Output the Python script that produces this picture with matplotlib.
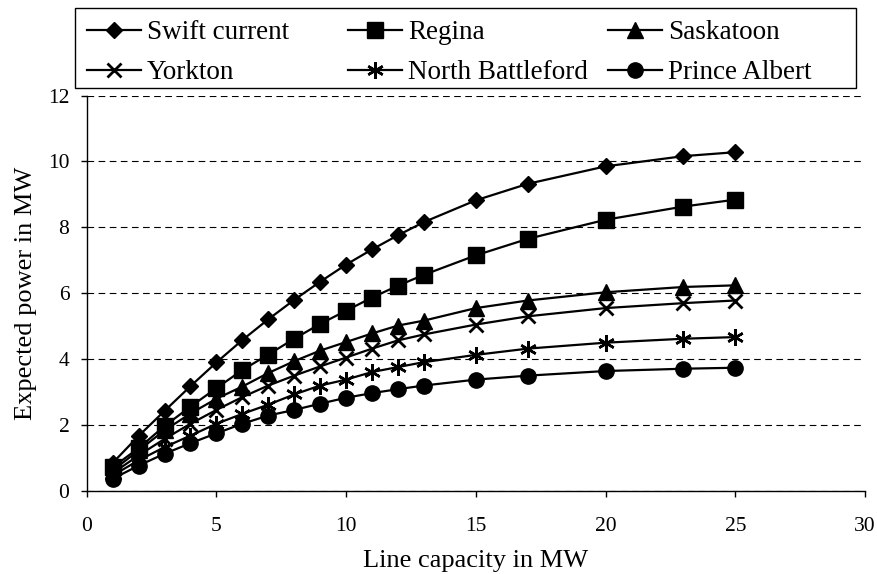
import matplotlib
matplotlib.use("Agg")
import matplotlib.pyplot as plt
from matplotlib.patches import Rectangle

capacity = [1, 2, 3, 4, 5, 6, 7, 8, 9, 10, 11, 12, 13, 15, 17, 20, 23, 25]

swift_current = [0.85, 1.67, 2.43, 3.18, 3.9, 4.58, 5.21, 5.8, 6.35, 6.87, 7.33, 7.76, 8.16, 8.82, 9.32, 9.85, 10.16, 10.28]
regina = [0.72, 1.3, 1.97, 2.56, 3.12, 3.67, 4.14, 4.62, 5.07, 5.47, 5.87, 6.23, 6.56, 7.15, 7.65, 8.23, 8.63, 8.84]
saskatoon = [0.62, 1.23, 1.84, 2.35, 2.8, 3.17, 3.58, 3.94, 4.26, 4.52, 4.78, 5.02, 5.17, 5.55, 5.78, 6.03, 6.19, 6.24]
yorkton = [0.54, 1.08, 1.58, 2.04, 2.46, 2.85, 3.2, 3.5, 3.78, 4.05, 4.32, 4.57, 4.75, 5.05, 5.3, 5.55, 5.7, 5.78]
north_battleford = [0.47, 0.93, 1.33, 1.68, 2.04, 2.34, 2.62, 2.93, 3.2, 3.38, 3.61, 3.76, 3.91, 4.13, 4.32, 4.5, 4.62, 4.67]
prince_albert = [0.37, 0.77, 1.13, 1.45, 1.75, 2.04, 2.29, 2.46, 2.65, 2.83, 2.97, 3.09, 3.2, 3.38, 3.5, 3.64, 3.71, 3.74]

series_names = ["Swift current", "Regina", "Saskatoon", "Yorkton", "North Battleford", "Prince Albert"]

x_ticks = [0, 5, 10, 15, 20, 25, 30]
y_ticks = [0, 2, 4, 6, 8, 10, 12]

plt.rcParams['font.family'] = ['Liberation Serif', 'DejaVu Serif']

W, H = 877, 574
fig = plt.figure(figsize=(W / 100, H / 100), dpi=100)
ax = fig.add_axes([86.7 / W, 1 - 491 / H, (865 - 86.7) / W, (491 - 95.5) / H])

styles = [
    dict(marker='D', ms=8),
    dict(marker='s', ms=11),
    dict(marker='^', ms=11),
    dict(marker='x', ms=10, mew=2),
    dict(marker=(6, 2, 0), ms=12, mew=1.8),
    dict(marker='o', ms=11),
]
data = [swift_current, regina, saskatoon, yorkton, north_battleford, prince_albert]
lines = []
for name, vals, st in zip(series_names, data, styles):
    kw = dict(color='black', lw=1.6, mfc='black', mec='black')
    kw.update(st)
    (ln,) = ax.plot(capacity, vals, label=name, **kw)
    lines.append(ln)

ax.set_xlim(0, 30)
ax.set_ylim(0, 12)
ax.set_xticks(x_ticks)
ax.set_yticks(y_ticks)
ax.yaxis.grid(True, linestyle=(0, (6, 4)), color='black', lw=0.8)
ax.set_axisbelow(True)
for s in ['top', 'right']:
    ax.spines[s].set_visible(False)
for s in ['left', 'bottom']:
    ax.spines[s].set_color('black')
    ax.spines[s].set_linewidth(1.0)
ax.tick_params(direction='out', length=4.5, width=1, labelsize=15.5, colors='black')
ax.tick_params(axis='x', pad=14)
ax.tick_params(axis='y', pad=8)
ax.set_xlabel("Line capacity in MW", fontsize=19, labelpad=10)
ax.set_ylabel("Expected power in MW", fontsize=19, labelpad=8)

# legend: three columns, one legend each, inside one frame
col_x = [87, 348, 608]
col_items = [[0, 3], [1, 4], [2, 5]]
for cx, items in zip(col_x, col_items):
    leg = fig.legend(handles=[lines[i] for i in items], loc='upper left',
                     bbox_to_anchor=(cx / W, 1 - 20 / H), ncol=1, fontsize=19.5,
                     frameon=False, handlelength=2.0, handletextpad=0.22,
                     borderpad=0, borderaxespad=0, labelspacing=0.56)
fig.patches.append(Rectangle((75 / W, 1 - 88 / H), (856 - 75) / W, 80 / H,
                             transform=fig.transFigure, fill=False,
                             edgecolor='black', lw=1.0))

fig.savefig("out.png", dpi=100)
